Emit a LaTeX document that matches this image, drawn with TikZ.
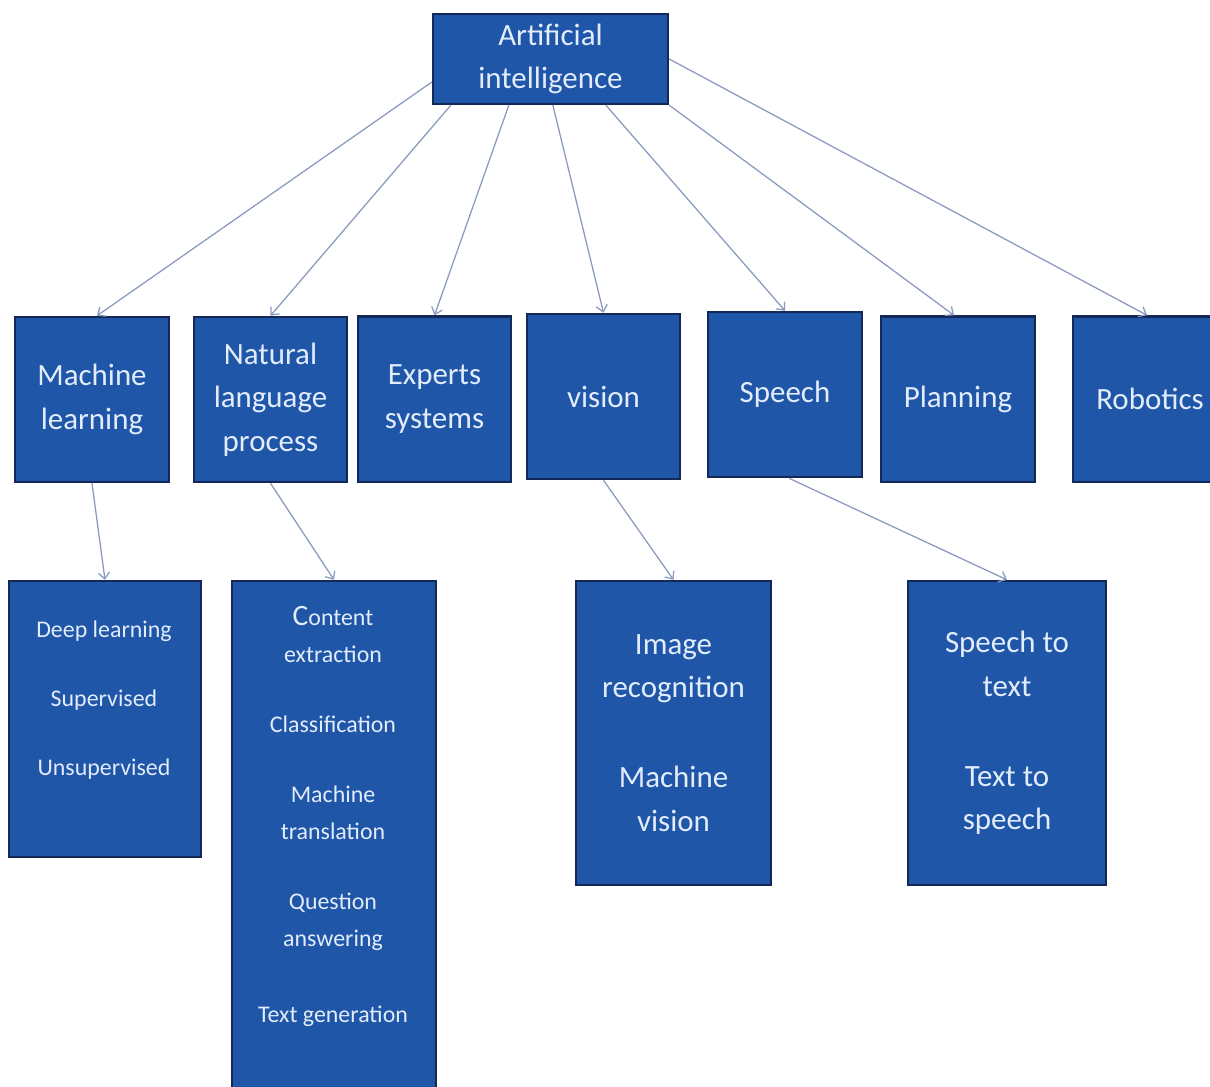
\documentclass[tikz,border=0pt]{standalone}
\usepackage{fontspec}
\setmainfont{Carlito}
\usepackage{tikz}
\usetikzlibrary{arrows.meta,calc}
\definecolor{boxblue}{RGB}{31,86,168}
\definecolor{edgeblue}{RGB}{20,40,88}
\definecolor{textblue}{RGB}{226,236,252}
\definecolor{linegray}{RGB}{138,154,190}
\tikzset{
  block/.style={
    draw=edgeblue,
    fill=boxblue,
    line width=1.6pt,
    text=textblue,
    align=center,
    inner sep=0pt,
    font=\fontsize{22}{31}\selectfont
  },
  mainblock/.style={block, minimum width=3.84cm, minimum height=4.13cm},
  small/.style={text=textblue, align=center, font=\fontsize{17}{26}\selectfont},
  line/.style={-{Straight Barb[length=1.6mm,width=2.8mm]}, draw=linegray, line width=0.9pt}
}

\begin{document}
\begin{tikzpicture}[x=0.025cm, y=-0.025cm]
        \useasboundingbox (0,0) rectangle (1210,1086);
        \clip (0,0) rectangle (1210,1086);
        \node[block, minimum width=5.875cm, minimum height=2.25cm] (ai) at (550.5,59) {Artificial\\intelligence};
        \node[mainblock] (ml) at (92,399.5) {Machine\\learning};
        \node[mainblock] (nlp) at (270.5,399.5) {Natural\\language\\process};
        \node[mainblock] (es) at (434.5,399) {Experts\\systems};
        \node[mainblock] (vis) at (603.5,396.5) {vision};
        \node[mainblock] (sp) at (785,394.5) {Speech};
        \node[mainblock] (pl) at (958,399) {Planning};
        \node[mainblock] (rob) at (1150,399) {Robotics};
        \node[block, minimum width=4.8cm, minimum height=6.9cm] (mlsub) at (105,719) {};
        \node[small] (mltext) at (104,700) {Deep learning\\[23pt]Supervised\\[23pt]Unsupervised};
        \node[block, minimum width=5.1cm, minimum height=12.975cm] (nlpsub) at (334,840.5) {};
        \node[small] (nlptext) at (333,816.5) {{\fontsize{21}{26}\selectfont C}ontent\\extraction\\[24pt]Classification\\[24pt]Machine\\translation\\[24pt]Question\\answering\\[28pt]Text generation};
        \node[block, minimum width=4.875cm, minimum height=7.6cm] (vissub) at (673.5,733) {Image\\recognition\\[33pt]Machine\\vision};
        \node[block, minimum width=4.95cm, minimum height=7.6cm] (spsub) at (1007,733) {Speech to\\text\\[33pt]Text to\\speech};
        \draw[line] ($(ai.west)+(0,23)$) -- ($(ml.north)+(5,0)$);
        \draw[line] ($(ai.south west)+(19,0)$) -- (nlp.north);
        \draw[line] ($(ai.south west)+(77,0)$) -- (es.north);
        \draw[line] ($(ai.south west)+(121,0)$) -- (vis.north);
        \draw[line] ($(ai.south west)+(174,0)$) -- (sp.north);
        \draw[line] (ai.south east) -- ($(pl.north)+(-4,0)$);
        \draw[line] (ai.east) -- ($(rob.north)+(-3,0)$);
        \draw[line] (ml.south) -- (mlsub.north);
        \draw[line] (nlp.south) -- (nlpsub.north);
        \draw[line] (vis.south) -- (vissub.north);
        \draw[line] ($(sp.south)+(4,0)$) -- (spsub.north);
      \end{tikzpicture}
\end{document}
